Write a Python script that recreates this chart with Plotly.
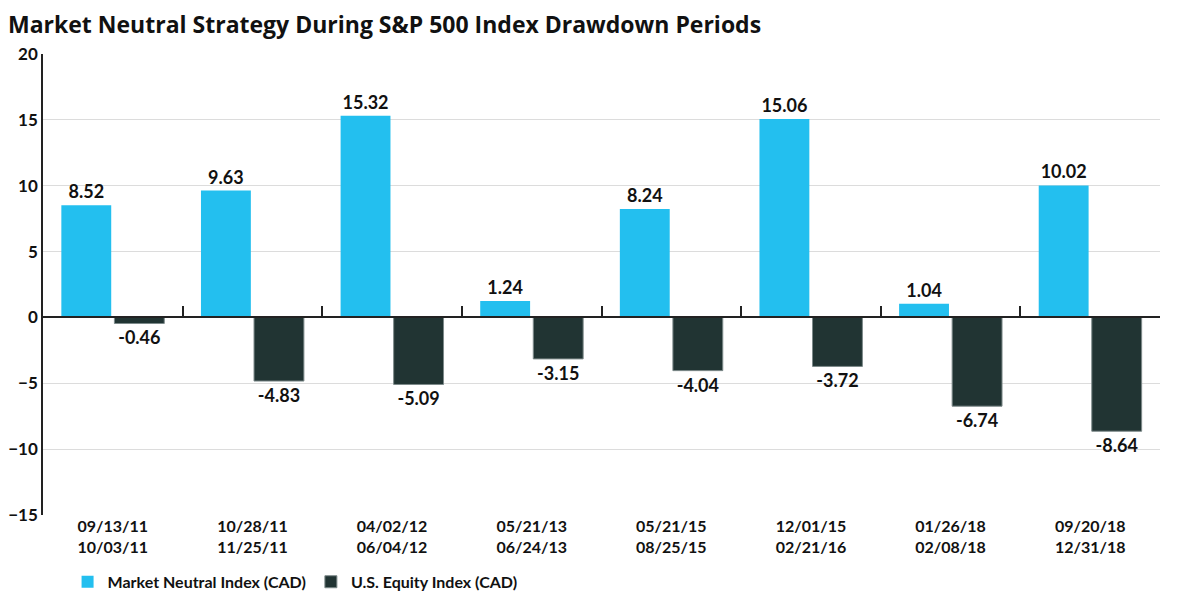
import plotly.graph_objects as go

# Daten
periods = ["09/13/11<br>10/03/11", "10/28/11<br>11/25/11", "04/02/12<br>06/04/12",
           "05/21/13<br>06/24/13", "05/21/15<br>08/25/15", "12/01/15<br>02/21/16",
           "01/26/18<br>02/08/18", "09/20/18<br>12/31/18"]
market_neutral = [8.52, 9.63, 15.32, 1.24, 8.24, 15.06, 1.04, 10.02]
us_equity = [-0.46, -4.83, -5.09, -3.15, -4.04, -3.72, -6.74, -8.64]
y_ticks = [20, 15, 10, 5, 0, -5, -10, -15]

cyan = "#23BFEF"
dark = "#213433"
font = "Lato"

fig = go.Figure()

fig.add_trace(go.Bar(
    x=periods, y=market_neutral, name="Market Neutral Index (CAD)",
    marker=dict(color=cyan, line=dict(width=0)),
    text=[f"{v:.2f}" for v in market_neutral], textposition="outside",
    textfont=dict(family=font, size=18, color="#111", weight="bold"), cliponaxis=False,
))
fig.add_trace(go.Bar(
    x=periods, y=us_equity, name="U.S. Equity Index (CAD)",
    marker=dict(color=dark, line=dict(width=1, color="#7d8a8a")),
    text=[f"{v:.2f}" for v in us_equity], textposition="outside",
    textfont=dict(family=font, size=18, color="#111", weight="bold"), cliponaxis=False,
))

# zweite x-Achse nur fuer die Nulllinie mit Trennstrichen
fig.add_trace(go.Scatter(x=[0, 7], y=[0, 0], xaxis="x2", mode="lines",
                         line=dict(width=0), showlegend=False, hoverinfo="skip"))

zero_pos = (0 - (-15)) / (20 - (-15))

# Seite hat 8px Rand -> Raender um 7px verschoben
fig.update_layout(
    width=1200, height=601,
    paper_bgcolor="white", plot_bgcolor="white",
    margin=dict(l=35, r=48, t=46, b=94, autoexpand=False),
    title=dict(text="<b>Market Neutral Strategy During S&P 500 Index Drawdown Periods</b>",
               x=0, xanchor="left", y=0.971, yanchor="middle", pad=dict(l=0),
               font=dict(family="Open Sans", size=23, color="#111")),
    barmode="group", bargap=0.24, bargroupgap=0.06,
    font=dict(family=font, color="#111"),
    xaxis=dict(type="category", showline=False, showgrid=False, ticks="",
               tickfont=dict(family=font, size=16, color="#111", weight="bold"),
               range=[-0.5, 7.5], automargin=False),
    xaxis2=dict(overlaying="x", anchor="free", position=zero_pos, range=[-0.5, 7.5],
                showline=True, linecolor="#222", linewidth=2, showgrid=False,
                ticks="inside", ticklen=10, tickwidth=1.5, tickcolor="#222",
                tickvals=[i + 0.5 for i in range(7)], showticklabels=False,
                zeroline=False, automargin=False),
    yaxis=dict(range=[-15, 20], tickvals=y_ticks, showgrid=True, gridcolor="#dcdcdc",
               gridwidth=1, zeroline=False, showline=True, linecolor="#222", linewidth=1.5,
               tickfont=dict(family=font, size=17, color="#111", weight="bold"), ticklen=0,
               ticklabelstandoff=0, automargin=False),
    legend=dict(orientation="h", x=0.022, xanchor="left", y=-0.145, yanchor="middle",
                font=dict(family=font, size=16, color="#111", weight="bold"), itemwidth=30,
                traceorder="normal"),
)

fig.write_html("out.html")
